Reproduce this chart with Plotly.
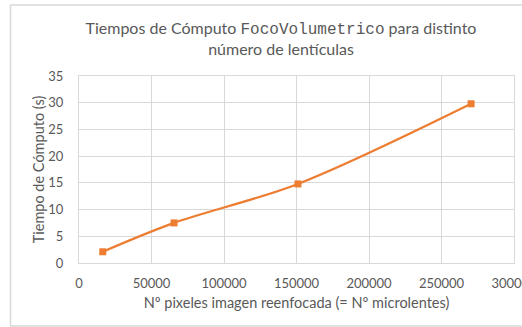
import plotly.graph_objects as go

# Tiempos de cómputo medidos frente al número de píxeles de la imagen reenfocada
pixeles = [16384, 65536, 151000, 270400]
tiempos = [2.1, 7.5, 14.8, 29.8]

x_ticks = [0, 50000, 100000, 150000, 200000, 250000, 300000]
y_ticks = [0, 5, 10, 15, 20, 25, 30, 35]

W, H = 522, 327
L, R, T, B = 79, 8, 76, 64

naranja = "#ED7D31"
gris_texto = "#595959"
gris_rejilla = "#d9d9d9"
fuente = "Lato"

fig = go.Figure()
fig.add_trace(go.Scatter(
    x=pixeles, y=tiempos,
    mode="lines+markers",
    line=dict(color=naranja, width=2.25, shape="spline", smoothing=0.9),
    marker=dict(symbol="square", size=7, color=naranja),
    showlegend=False,
))

pw = W - L - R
ph = H - T - B

fig.update_layout(
    width=W, height=H,
    margin=dict(l=L, r=R, t=T, b=B, autoexpand=False),
    paper_bgcolor="white",
    plot_bgcolor="white",
    font=dict(family=fuente, color=gris_texto),
    title=dict(
        text=("Tiempos de Cómputo <span style=\"font-family:'Liberation Mono'\">FocoVolumetrico</span>"
              " para distinto<br>número de lentículas"),
        x=281 / W, xref="container", xanchor="center",
        y=1 - 34 / H, yref="container", yanchor="middle",
        font=dict(family=fuente, size=16, color=gris_texto),
    ),
    xaxis=dict(
        range=[0, 300000],
        tickvals=x_ticks, ticktext=[str(v) for v in x_ticks],
        showgrid=True, gridcolor=gris_rejilla, gridwidth=1,
        zeroline=False, automargin=False,
        showline=True, linecolor=gris_rejilla, linewidth=1, mirror=True,
        ticks="", ticklabelstandoff=8, ticklabeloverflow="allow",
        tickfont=dict(family=fuente, size=13, color=gris_texto),
        title=dict(text="Nº pixeles imagen reenfocada (= Nº microlentes)",
                   font=dict(family=fuente, size=14.5, color=gris_texto), standoff=8),
    ),
    yaxis=dict(
        range=[0, 35],
        tickvals=y_ticks, ticktext=[str(v) for v in y_ticks],
        showgrid=True, gridcolor=gris_rejilla, gridwidth=1,
        zeroline=False, automargin=False,
        showline=True, linecolor=gris_rejilla, linewidth=1, mirror=True,
        ticks="", ticklabelstandoff=12,
        tickfont=dict(family=fuente, size=13, color=gris_texto),
        title=dict(text="Tiempo de Cómputo (s)",
                   font=dict(family=fuente, size=14.5, color=gris_texto), standoff=0),
    ),
)

# Borde del área del gráfico
fig.add_shape(
    type="rect", xref="paper", yref="paper",
    x0=(10.5 - L) / pw, x1=(W + 20 - L) / pw,
    y0=1 - (326 - T) / ph, y1=1 + (T - 5) / ph,
    line=dict(color=gris_rejilla, width=1.5),
    fillcolor="rgba(0,0,0,0)", layer="below",
)

fig.write_html("out.html")
